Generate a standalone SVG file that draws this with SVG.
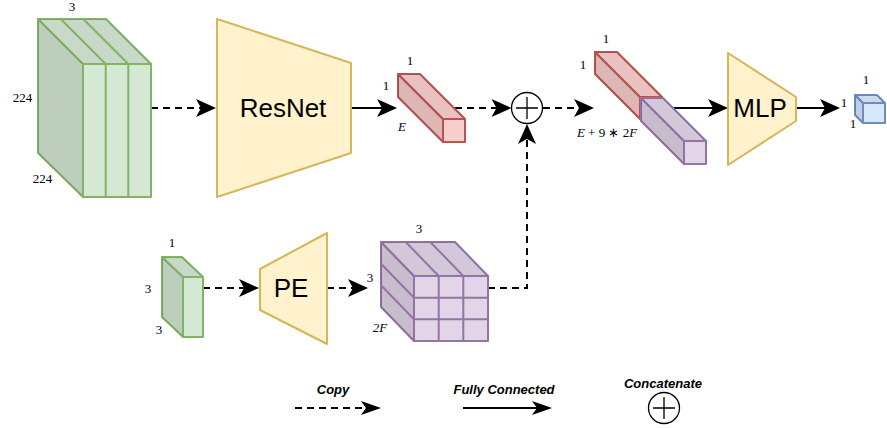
<svg xmlns="http://www.w3.org/2000/svg" width="887" height="428" viewBox="0 0 887 428">
<style>
.g{fill:#d5e8d4;stroke:#82b366;stroke-width:2;stroke-linejoin:round}
.r{fill:#f8cecc;stroke:#b85450;stroke-width:2;stroke-linejoin:round}
.p{fill:#e1d5e7;stroke:#9673a6;stroke-width:2;stroke-linejoin:round}
.b{fill:#dae8fc;stroke:#6c8ebf;stroke-width:2;stroke-linejoin:round}
.y{fill:#fff2cc;stroke:#d6b656;stroke-width:2;stroke-linejoin:round}
.d1{fill:#000;fill-opacity:0.06}
.d2{fill:#000;fill-opacity:0.11}
.ln{fill:none;stroke-width:2}
.lg{stroke:#82b366}.lp{stroke:#9673a6}
.c{fill:none;stroke:#000;stroke-width:2}
.dash{stroke-dasharray:7 5}
.m{font-family:"Liberation Serif",serif;font-size:13px;fill:#000;text-anchor:middle}
.i{font-style:italic}
.big{font-family:"Liberation Sans",Arial,sans-serif;font-size:26px;fill:#000;text-anchor:middle}
.leg{font-family:"Liberation Sans",Arial,sans-serif;font-size:13px;font-weight:bold;font-style:italic;fill:#000;text-anchor:middle}
.ci{fill:#fff;stroke:#000;stroke-width:1.3}
</style>
<defs>
<marker id="a" markerUnits="userSpaceOnUse" viewBox="0 0 20 18" markerWidth="20" markerHeight="18" refX="15" refY="9" orient="auto"><path d="M0,0 L20,9 L0,18 L5,9 Z" fill="#000"/></marker>
<marker id="as" markerUnits="userSpaceOnUse" viewBox="0 0 20 14" markerWidth="20" markerHeight="14" refX="15" refY="7" orient="auto"><path d="M0,0 L20,7 L0,14 L5,7 Z" fill="#000"/></marker>
</defs>

<g id="connectors">
<path class="c dash" d="M151,108 H211" marker-end="url(#a)"/>
<path class="c" d="M351,108 H392" marker-end="url(#a)"/>
<path class="c dash" d="M455,108 H506.5" marker-end="url(#a)"/>
<path class="c dash" d="M543,108 H589" marker-end="url(#a)"/>
<path class="c" d="M665,108 H723" marker-end="url(#a)"/>
<path class="c" d="M796,108 H835" marker-end="url(#a)"/>
<path class="c dash" d="M203,288 H254" marker-end="url(#a)"/>
<path class="c dash" d="M327,288 H363" marker-end="url(#a)"/>
<path class="c dash" d="M488,288 H527 V129" marker-end="url(#a)"/>
</g>

<g id="input-image">
<polygon class="g" points="38,19 83,64 83,197 38,153"/>
<polygon class="d2" points="38,19 83,64 83,197 38,153"/>
<polygon class="g" points="38,19 106,19 151,64 83,64"/>
<polygon class="d1" points="38,19 106,19 151,64 83,64"/>
<rect class="g" x="83" y="64" width="68" height="133"/>
<path class="ln lg" d="M105.7,64 V197 M128.3,64 V197 M60.7,19 L105.7,64 M83.3,19 L128.3,64"/>
<text class="m" x="72" y="11">3</text>
<text class="m" x="22.5" y="102">224</text>
<text class="m" x="42.5" y="183">224</text>
</g>

<g id="resnet">
<polygon class="y" points="217,19 351,63 351,153 217,197"/>
<text class="big" x="283" y="117">ResNet</text>
</g>

<g id="image-feature">
<polygon class="r" points="398,74 443,119 443,142 398,97"/>
<polygon class="d2" points="398,74 443,119 443,142 398,97"/>
<polygon class="r" points="398,74 420,74 465,119 443,119"/>
<polygon class="d1" points="398,74 420,74 465,119 443,119"/>
<rect class="r" x="443" y="119" width="22" height="23"/>
<text class="m" x="410" y="65">1</text>
<text class="m" x="386" y="90">1</text>
<text class="m i" x="402" y="131">E</text>
</g>

<g id="concat-op">
<circle class="ci" cx="527" cy="108" r="15.5"/>
<path d="M516,108 H538 M527,97 V119" stroke="#000" stroke-width="1.3"/>
</g>

<g id="concat-feature">
<polygon class="r" points="595,52 640,97 640,119 595,74"/>
<polygon class="d2" points="595,52 640,97 640,119 595,74"/>
<polygon class="r" points="595,52 617,52 662,97 640,97"/>
<polygon class="d1" points="595,52 617,52 662,97 640,97"/>
<rect class="r" x="640" y="97" width="22" height="22"/>
<polygon class="p" points="641,98 684,141 684,164 641,121"/>
<polygon class="d2" points="641,98 684,141 684,164 641,121"/>
<polygon class="p" points="641,98 663,98 706,141 684,141"/>
<polygon class="d1" points="641,98 663,98 706,141 684,141"/>
<rect class="p" x="684" y="141" width="22" height="23"/>
<text class="m" x="606" y="43">1</text>
<text class="m" x="583" y="69">1</text>
<text class="m" x="607" y="137"><tspan class="i">E</tspan> + 9 ∗ 2<tspan class="i">F</tspan></text>
</g>

<g id="mlp">
<polygon class="y" points="728,53 796,97 796,121 728,165"/>
<text class="big" x="760" y="117">MLP</text>
</g>

<g id="output">
<polygon class="b" points="855,95 863,103 863,123 855,115"/>
<polygon class="d2" points="855,95 863,103 863,123 855,115"/>
<polygon class="b" points="855,95 877,95 885,103 863,103"/>
<polygon class="d1" points="855,95 877,95 885,103 863,103"/>
<rect class="b" x="863" y="103" width="22" height="20"/>
<text class="m" x="866" y="84">1</text>
<text class="m" x="844" y="107">1</text>
<text class="m" x="853" y="128">1</text>
</g>

<g id="coords">
<polygon class="g" points="162,257 183,277 183,337 162,317"/>
<polygon class="d2" points="162,257 183,277 183,337 162,317"/>
<polygon class="g" points="162,257 182,257 203,277 183,277"/>
<polygon class="d1" points="162,257 182,257 203,277 183,277"/>
<rect class="g" x="183" y="277" width="20" height="60"/>
<text class="m" x="172" y="247">1</text>
<text class="m" x="148" y="293">3</text>
<text class="m" x="159" y="334">3</text>
</g>

<g id="pe">
<polygon class="y" points="260,269 327,233 327,344 260,310"/>
<text class="big" x="291" y="297">PE</text>
</g>

<g id="pos-encoding">
<polygon class="p" points="381,242 414,276 414,341 381,307"/>
<polygon class="d2" points="381,242 414,276 414,341 381,307"/>
<polygon class="p" points="381,242 455,242 488,276 414,276"/>
<polygon class="d1" points="381,242 455,242 488,276 414,276"/>
<rect class="p" x="414" y="276" width="74" height="65"/>
<path class="ln lp" d="M438.7,276 V341 M463.3,276 V341 M414,297.7 H488 M414,319.3 H488 M405.7,242 L438.7,276 M430.3,242 L463.3,276 M381,263.7 L414,297.7 M381,285.3 L414,319.3"/>
<text class="m" x="419" y="233">3</text>
<text class="m" x="370" y="282">3</text>
<text class="m i" x="380" y="332">2F</text>
</g>

<g id="legend">
<text class="leg" x="333" y="394">Copy</text>
<path class="c dash" d="M295,408 H376" marker-end="url(#as)"/>
<text class="leg" x="504" y="394">Fully Connected</text>
<path class="c" d="M463,408 H547" marker-end="url(#as)"/>
<text class="leg" x="663" y="388">Concatenate</text>
<circle class="ci" cx="664" cy="408" r="15.5"/>
<path d="M653,408 H675 M664,397 V419" stroke="#000" stroke-width="1.3"/>
</g>
</svg>
